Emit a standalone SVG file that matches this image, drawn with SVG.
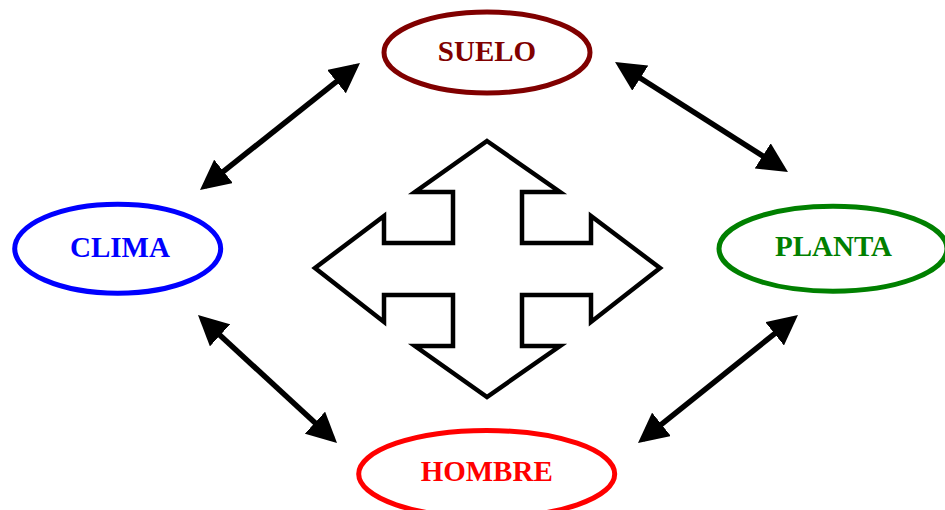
<svg xmlns="http://www.w3.org/2000/svg" width="945" height="510" viewBox="0 0 945 510">
  <defs>
    <marker id="ah" viewBox="0 0 30 30" refX="24" refY="15" markerWidth="30" markerHeight="30" markerUnits="userSpaceOnUse" orient="auto-start-reverse">
      <path d="M0,0 L30,15 L0,30 z" fill="#000"/>
    </marker>
    <style>
      .node ellipse { fill: #fff; stroke-width: 5; }
      .node text { font-family: "Liberation Serif", "Times New Roman", serif; font-weight: bold; font-size: 29px; text-anchor: middle; }
      .conn line { stroke: #000; stroke-width: 5.5; marker-start: url(#ah); marker-end: url(#ah); }
    </style>
  </defs>
  <rect width="945" height="510" fill="#fff"/>
  <g id="cross">
    <polygon points="487,141 560,192 522,192 522,243 591,243 591,216 660,268 591,322 591,295 522,295 522,346 560,346 487,397 415,346 453,346 453,295 384,295 384,322 315,268 384,216 384,243 453,243 453,192 415,192" fill="#fff" stroke="#000" stroke-width="4.5" stroke-linejoin="miter"/>
  </g>
  <g id="connectors" class="conn">
    <line x1="355.3" y1="66.7" x2="204.7" y2="186.3"/>
    <line x1="620.1" y1="65.2" x2="782.9" y2="168.8"/>
    <line x1="202.4" y1="319.1" x2="332.6" y2="438.9"/>
    <line x1="793.3" y1="318.8" x2="642.7" y2="439.3"/>
  </g>
  <g id="suelo" class="node">
    <ellipse cx="487" cy="52.5" rx="103" ry="40.5" stroke="#800000"/>
    <text x="487" y="61" fill="#800000">SUELO</text>
  </g>
  <g id="clima" class="node">
    <ellipse cx="117.7" cy="248.7" rx="103" ry="44.5" stroke="#0000ff"/>
    <text x="120" y="256.5" fill="#0000ff">CLIMA</text>
  </g>
  <g id="planta" class="node">
    <ellipse cx="833" cy="248.7" rx="114" ry="42.5" stroke="#008000"/>
    <text x="833.5" y="256" fill="#008000">PLANTA</text>
  </g>
  <g id="hombre" class="node">
    <ellipse cx="486.7" cy="474" rx="128" ry="43.5" stroke="#ff0000"/>
    <text x="486.7" y="481" fill="#ff0000">HOMBRE</text>
  </g>
</svg>
